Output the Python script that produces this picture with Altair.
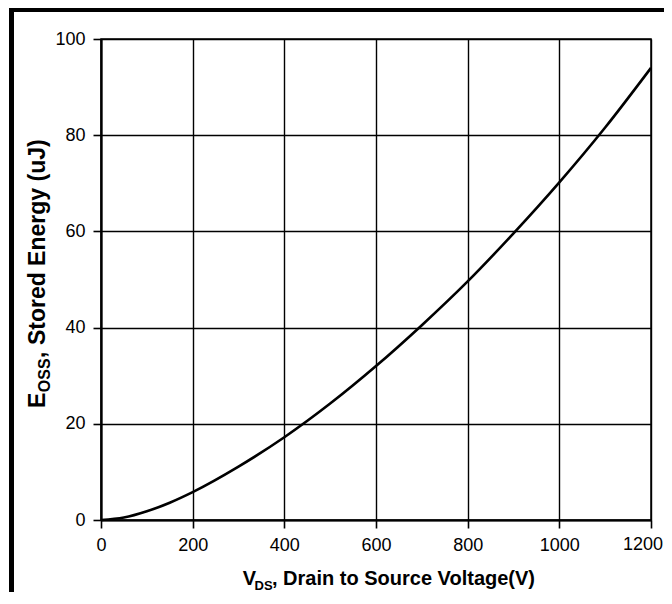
import altair as alt
import pandas as pd

# Data
vds = [0, 50, 100, 150, 200, 300, 400, 500, 600, 700, 800, 900, 1000, 1100, 1200]
eoss = [0, 0.5, 1.8, 3.6, 5.8, 11.1, 17.2, 24.2, 32.0, 40.5, 49.6, 59.6, 70.2, 81.6, 94]

x_ticks = [0, 200, 400, 600, 800, 1000, 1200]
y_ticks = [0, 20, 40, 60, 80, 100]

df = pd.DataFrame({"V": vds, "E": eoss})

FONT = "Liberation Sans"
W, H = 550, 481
TICK, LPAD, LSIZE = 8, 8, 18

line = alt.Chart(df).mark_line(color="black", strokeWidth=2.6, interpolate="monotone").encode(
    x=alt.X("V:Q", scale=alt.Scale(domain=[0, 1200], nice=False),
            axis=alt.Axis(values=x_ticks, title=None, format="d", labelFlush=False,
                          labelExpr=f"datum.value == {x_ticks[-1]} ? '' : datum.label")),
    y=alt.Y("E:Q", scale=alt.Scale(domain=[0, 100], nice=False),
            axis=alt.Axis(values=y_ticks, title=None, format="d", labelFlush=False)),
)

# last x tick label drawn separately so it stays inside the page
last_lbl = alt.Chart(pd.DataFrame({"V": [x_ticks[-1]], "t": [str(x_ticks[-1])]})).mark_text(
    font=FONT, fontSize=LSIZE, align="right", baseline="top", dx=12, color="black"
).encode(x="V:Q", y=alt.value(H + TICK + LPAD), text="t:N")

one = pd.DataFrame({"k": [0]})

left_border = alt.Chart(one).mark_rule(color="black", strokeWidth=5).encode(
    x=alt.value(-89.5), y=alt.value(-31), y2=alt.value(600))
top_border = alt.Chart(one).mark_rule(color="black", strokeWidth=5).encode(
    x=alt.value(-92), x2=alt.value(700), y=alt.value(-29.5))

def txt(s, x, y, size, angle=0):
    return alt.Chart(pd.DataFrame({"t": [s]})).mark_text(
        font=FONT, fontWeight="bold", fontSize=size, align="left",
        baseline="alphabetic", angle=angle, color="black").encode(
        x=alt.value(x), y=alt.value(y), text="t:N")

# x title: V_DS, Drain to Source Voltage(V)
xt1 = txt("V", 141.7, 546, 20)
xt2 = txt("DS", 153.5, 551, 13)
xt3 = txt(", Drain to Source Voltage(V)", 171, 546, 20)

# y title: E_OSS, Stored Energy (uJ)
yt1 = txt("E", -56, 369, 23, angle=270)
yt2 = txt("OSS", -51, 353.2, 16, angle=270)
yt3 = txt(", Stored Energy (uJ)", -56, 318.9, 23, angle=270)

chart = alt.layer(
    line, last_lbl, left_border, top_border, xt1, xt2, xt3, yt1, yt2, yt3
).properties(
    width=W, height=H,
    autosize=alt.AutoSizeParams(type="none"),
    padding={"left": 93, "top": 31, "right": 13, "bottom": 72},
    background="white",
).configure_view(
    stroke="black", strokeWidth=1.5
).configure_axis(
    grid=True, gridColor="black", gridWidth=1.4, gridOpacity=1,
    domainColor="black", domainWidth=2.2,
    tickColor="black", tickWidth=1.6, tickSize=TICK,
    labelFont=FONT, labelFontSize=LSIZE, labelColor="black",
).configure_axisX(
    labelPadding=LPAD
).configure_axisY(
    labelPadding=LPAD
)

chart.save("out.html", embed_options={"renderer": "svg", "actions": False})
